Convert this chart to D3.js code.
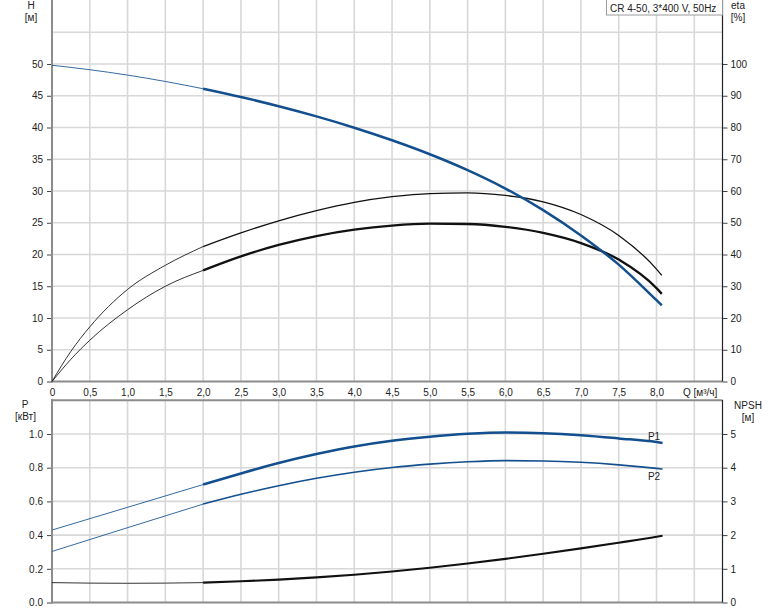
<!DOCTYPE html>
<html>
<head>
<meta charset="utf-8">
<script src="https://cdn.jsdelivr.net/npm/d3@7"></script>
<style>
  html, body { margin: 0; padding: 0; background: #fff; }
  svg { display: block; font-family: "Liberation Sans", Arial, sans-serif; }
  text { fill: #222; }
</style>
</head>
<body>
<svg id="chart" width="774" height="611"></svg>
<script>
// ---------- data ----------
const title = "CR 4-50, 3*400 V, 50Hz";
const xTicks = [0,0.5,1,1.5,2,2.5,3,3.5,4,4.5,5,5.5,6,6.5,7,7.5,8];
const hTicks = [0,5,10,15,20,25,30,35,40,45,50];
const etaTicks = [0,10,20,30,40,50,60,70,80,90,100];
const pTicks = [0,0.2,0.4,0.6,0.8,1.0];
const npshTicks = [0,1,2,3,4,5];

// Head curve H [m]
const qH = [0,0.5,1,1.5,2,2.5,3,3.5,4,4.5,5,5.5,6,6.5,7,7.5,8,8.07];
const H  = [49.8,49.1,48.25,47.25,46.1,44.8,43.35,41.75,39.97,37.99,35.79,33.29,30.39,26.99,23.0,18.4,12.8,12.0];

// Efficiency curves [%]
const qEta = [0,0.25,0.5,1,1.5,2,2.5,3,3.5,4,4.5,5,5.5,6,6.5,7,7.5,8,8.07];
const etaUpper = [0,9.5,17.2,29.0,36.6,42.5,46.8,50.6,53.8,56.4,58.2,59.2,59.4,58.6,56.6,52.6,46.0,35.4,33.4];
const etaLower = [0,7.0,13.0,22.6,30.0,35.0,39.4,43.0,45.8,47.8,49.1,49.7,49.6,48.7,46.8,43.6,38.4,29.4,27.6];

// Power curves [kW]
const qP = [0,1,2,2.5,3,3.5,4,4.5,5,5.5,6,6.5,7,7.5,8,8.08];
const P1 = [0.430,0.565,0.700,0.766,0.828,0.881,0.926,0.960,0.984,1.001,1.009,1.005,0.993,0.974,0.952,0.946];
const P2 = [0.303,0.444,0.584,0.642,0.693,0.737,0.773,0.801,0.821,0.835,0.842,0.840,0.832,0.817,0.796,0.792];

// NPSH [m]
const qN = [0,0.5,1,1.5,2,2.5,3,3.5,4,4.5,5,5.5,6,6.5,7,7.5,8,8.08];
const NPSH = [0.59,0.575,0.57,0.575,0.59,0.63,0.68,0.745,0.825,0.92,1.03,1.155,1.295,1.445,1.605,1.775,1.95,1.98];

// ---------- layout ----------
const svg = d3.select("#chart");
const X0 = 52, XR = 722.5;
const x = d3.scaleLinear().domain([0, 8]).range([52, 656.5]);

const yH = d3.scaleLinear().domain([0, 50]).range([381.5, 64]);
const yEta = d3.scaleLinear().domain([0, 100]).range([381.5, 64]);
const yP = d3.scaleLinear().domain([0, 1]).range([602.5, 434]);
const yN = d3.scaleLinear().domain([0, 5]).range([602.5, 434]);

const TOP0 = 0, TOP1 = 381.5, BOT0 = 400, BOT1 = 602.5;
const gridColor = "#d8d8d8";
const axisGray = "#8c8c8c";
const blue = "#134f8e";
const fmtComma = d => d === 0 ? "0" : d3.format(".1f")(d).replace(".", ",");

// ---------- grids ----------
const gridX = d3.range(1, 18).map(i => i * 0.5);
const grid = svg.append("g");
gridX.forEach(q => {
  grid.append("line").attr("x1", x(q)).attr("x2", x(q)).attr("y1", TOP0).attr("y2", TOP1)
    .attr("stroke", gridColor).attr("stroke-width", 1.6);
  grid.append("line").attr("x1", x(q)).attr("x2", x(q)).attr("y1", BOT0).attr("y2", BOT1)
    .attr("stroke", gridColor).attr("stroke-width", 1.6);
});
d3.range(1, 12).map(i => i * 5).forEach(h => {
  grid.append("line").attr("x1", X0).attr("x2", XR).attr("y1", yH(h)).attr("y2", yH(h))
    .attr("stroke", gridColor).attr("stroke-width", 1.6);
});
[0.2,0.4,0.6,0.8,1.0].forEach(p => {
  grid.append("line").attr("x1", X0).attr("x2", XR).attr("y1", yP(p)).attr("y2", yP(p))
    .attr("stroke", gridColor).attr("stroke-width", 1.6);
});
// bottom panel top border
grid.append("line").attr("x1", X0).attr("x2", XR).attr("y1", yP(1.2)).attr("y2", yP(1.2))
  .attr("stroke", axisGray).attr("stroke-width", 2);

// ---------- axes ----------
function styleAxis(g) {
  g.select(".domain").remove();
  g.selectAll(".tick line").attr("stroke", "#444");
  g.selectAll(".tick text").attr("fill", "#222").style("font-size", "10px")
    .style("font-family", '"Liberation Sans", Arial, sans-serif');
}
svg.append("g").attr("transform", `translate(${X0},0)`)
  .call(d3.axisLeft(yH).tickValues(hTicks).tickSize(5).tickPadding(4).tickFormat(d3.format("d")))
  .call(styleAxis);
svg.append("g").attr("transform", `translate(${XR},0)`)
  .call(d3.axisRight(yEta).tickValues(etaTicks).tickSize(5).tickPadding(3).tickFormat(d3.format("d")))
  .call(styleAxis);
svg.append("g").attr("transform", `translate(0,${TOP1})`)
  .call(d3.axisBottom(x).tickValues(xTicks).tickSize(0).tickPadding(7).tickFormat(fmtComma))
  .call(styleAxis);
svg.append("g").attr("transform", `translate(${X0},0)`)
  .call(d3.axisLeft(yP).tickValues(pTicks).tickSize(5).tickPadding(4).tickFormat(d3.format(".1f")))
  .call(styleAxis);
svg.append("g").attr("transform", `translate(${XR},0)`)
  .call(d3.axisRight(yN).tickValues(npshTicks).tickSize(5).tickPadding(3).tickFormat(d3.format("d")))
  .call(styleAxis);

// axis lines
svg.append("line").attr("x1", X0).attr("x2", X0).attr("y1", TOP0).attr("y2", TOP1 + 1)
  .attr("stroke", axisGray).attr("stroke-width", 2);
svg.append("line").attr("x1", X0).attr("x2", XR).attr("y1", TOP1).attr("y2", TOP1)
  .attr("stroke", axisGray).attr("stroke-width", 2);
svg.append("line").attr("x1", XR).attr("x2", XR).attr("y1", TOP0).attr("y2", TOP1)
  .attr("stroke", "#222").attr("stroke-width", 1.2);
svg.append("line").attr("x1", X0).attr("x2", X0).attr("y1", BOT0 - 1).attr("y2", BOT1 + 1)
  .attr("stroke", axisGray).attr("stroke-width", 2);
svg.append("line").attr("x1", X0).attr("x2", XR).attr("y1", BOT1).attr("y2", BOT1)
  .attr("stroke", axisGray).attr("stroke-width", 2);
svg.append("line").attr("x1", XR).attr("x2", XR).attr("y1", BOT0).attr("y2", BOT1)
  .attr("stroke", "#222").attr("stroke-width", 1.2);

// ---------- curves ----------
function drawSplit(qs, vs, yScale, color, wThin, wThick) {
  const pts = qs.map((q, i) => [q, vs[i]]);
  const line = d3.line().x(d => x(d[0])).y(d => yScale(d[1])).curve(d3.curveMonotoneX);
  const thin = pts.filter(d => d[0] <= 2);
  const thick = pts.filter(d => d[0] >= 2);
  svg.append("path").attr("d", line(thin)).attr("fill", "none")
    .attr("stroke", color).attr("stroke-width", wThin).attr("stroke-opacity", 0.85);
  svg.append("path").attr("d", line(thick)).attr("fill", "none")
    .attr("stroke", color).attr("stroke-width", wThick).attr("stroke-linecap", "butt");
}
drawSplit(qEta, etaUpper, yEta, "#111", 1, 1.3);
drawSplit(qEta, etaLower, yEta, "#111", 1, 2.3);
drawSplit(qH, H, yH, blue, 1, 2.5);
drawSplit(qN, NPSH, yN, "#111", 1, 2.1);
drawSplit(qP, P2, yP, blue, 1, 1.6);
drawSplit(qP, P1, yP, blue, 1, 2.5);

// ---------- labels ----------
function label(txt, xx, yy, anchor, color) {
  svg.append("text").attr("x", xx).attr("y", yy).attr("text-anchor", anchor || "middle")
    .style("font-size", "10px").attr("fill", color || "#222").text(txt);
}
label("H", 31, 9);
label("[м]", 31, 21);
label("eta", 738, 9);
label("[%]", 738, 21);
label("Q [м³/ч]", 683, TOP1 + 14, "start");
label("P", 25, 408);
label("[кВт]", 25.5, 420);
label("NPSH", 748, 409);
label("[м]", 748, 421);
label("P1", 654, 440, "middle", blue);
label("P2", 654, 480, "middle", blue);

// title box
const tb = svg.append("g");
tb.append("rect").attr("x", 606.5).attr("y", -1).attr("width", XR - 606.5).attr("height", 16)
  .attr("fill", "#fff").attr("stroke", "#9a9a9a").attr("stroke-width", 1);
tb.append("text").attr("x", 610).attr("y", 11.5).style("font-size", "10px").attr("fill", "#111").text(title);
</script>
</body>
</html>
